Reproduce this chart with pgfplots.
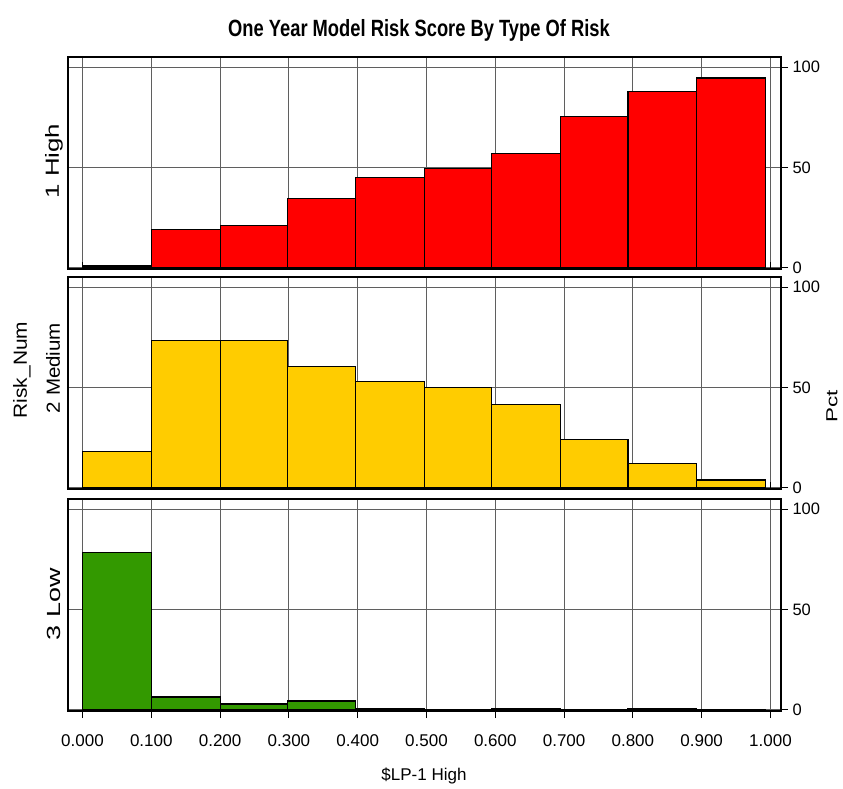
\documentclass[border=0pt]{standalone}
\usepackage{fontspec}
\setmainfont{Liberation Sans}
\usepackage{graphicx}
\usepackage{pgfplots}
\pgfplotsset{compat=1.18}
\definecolor{barred}{RGB}{255,0,0}
\definecolor{baryellow}{RGB}{255,204,0}
\definecolor{bargreen}{RGB}{51,153,0}
\definecolor{gridgray}{RGB}{95,95,95}
\pgfplotsset{panel/.style={
  anchor=south west,
  width=713pt, height=212pt, scale only axis,
  xmin=-0.0211, xmax=1.0153, ymin=-0.5, ymax=105,
  xtick={0,0.1,0.2,0.3,0.4,0.5,0.6,0.7,0.8,0.9,1.0},
  ytick={0,50,100}, yticklabels={0,50,100},
  grid=major,
  major grid style={gridgray, line width=1pt},
  axis line style={black, line width=1.5pt},
  ytick pos=right, yticklabel pos=right,
  xtick pos=bottom,
  major tick length=7pt,
  tick style={black, line width=1pt},
  y tick label style={font=\fontsize{16.5}{16.5}\selectfont, xshift=1pt},
  x tick label style={font=\fontsize{17}{17}\selectfont, yshift=-13pt},
  every axis plot/.append style={draw=black, line width=1.2pt},
}}
\begin{document}
\begin{tikzpicture}
\useasboundingbox (0,0) rectangle (843pt,788pt);
% panel 1
\begin{axis}[panel, at={(68pt,519pt)}, xticklabels={}, xtick align=inside, ytick align=outside]
\addplot[ybar interval, fill=barred] coordinates {
(0,1) (0.1,19) (0.2,21) (0.298,34.5) (0.397,45) (0.497,49.5) (0.595,57) (0.695,75.5) (0.793,88) (0.893,94.5) (0.993,0)};
\end{axis}
% panel 2
\begin{axis}[panel, at={(68pt,299pt)}, xticklabels={}, xtick align=inside, ytick align=outside]
\addplot[ybar interval, fill=baryellow] coordinates {
(0,18) (0.1,73.5) (0.2,73.5) (0.298,60.5) (0.397,53) (0.497,50) (0.595,41.5) (0.695,24) (0.793,12) (0.893,4) (0.993,0)};
\end{axis}
% panel 3
\begin{axis}[panel, at={(68pt,77pt)}, tick align=outside,
  xticklabels={0.000,0.100,0.200,0.300,0.400,0.500,0.600,0.700,0.800,0.900,1.000}]
\addplot[ybar interval, fill=bargreen] coordinates {
(0,78.5) (0.1,6.5) (0.2,3) (0.298,4.5) (0.397,0.5) (0.497,0.3) (0.595,0.5) (0.695,0.3) (0.793,0.8) (0.893,0.2) (0.993,0)};
\end{axis}
% titles and labels
\node at (419pt,758pt) {\fontsize{23.5}{23.5}\selectfont\scalebox{0.78}[1]{\bfseries One Year Model Risk Score By Type Of Risk}};
\node[rotate=90] at (54pt,627pt) {\fontsize{19}{19}\selectfont\scalebox{1.36}[1]{1 High}};
\node[rotate=90] at (53pt,420pt) {\fontsize{19}{19}\selectfont\scalebox{1.08}[1]{2 Medium}};
\node[rotate=90] at (54pt,184pt) {\fontsize{19}{19}\selectfont\scalebox{1.42}[1]{3 Low}};
\node[rotate=90] at (22pt,418pt) {\fontsize{19}{19}\selectfont\scalebox{1.1}[1]{Risk\_Num}};
\node[rotate=90] at (832pt,382pt) {\fontsize{16}{16}\selectfont\scalebox{1.4}[1]{Pct}};
\node at (424pt,12pt) {\fontsize{17}{17}\selectfont \$LP-1 High};
\end{tikzpicture}
\end{document}
